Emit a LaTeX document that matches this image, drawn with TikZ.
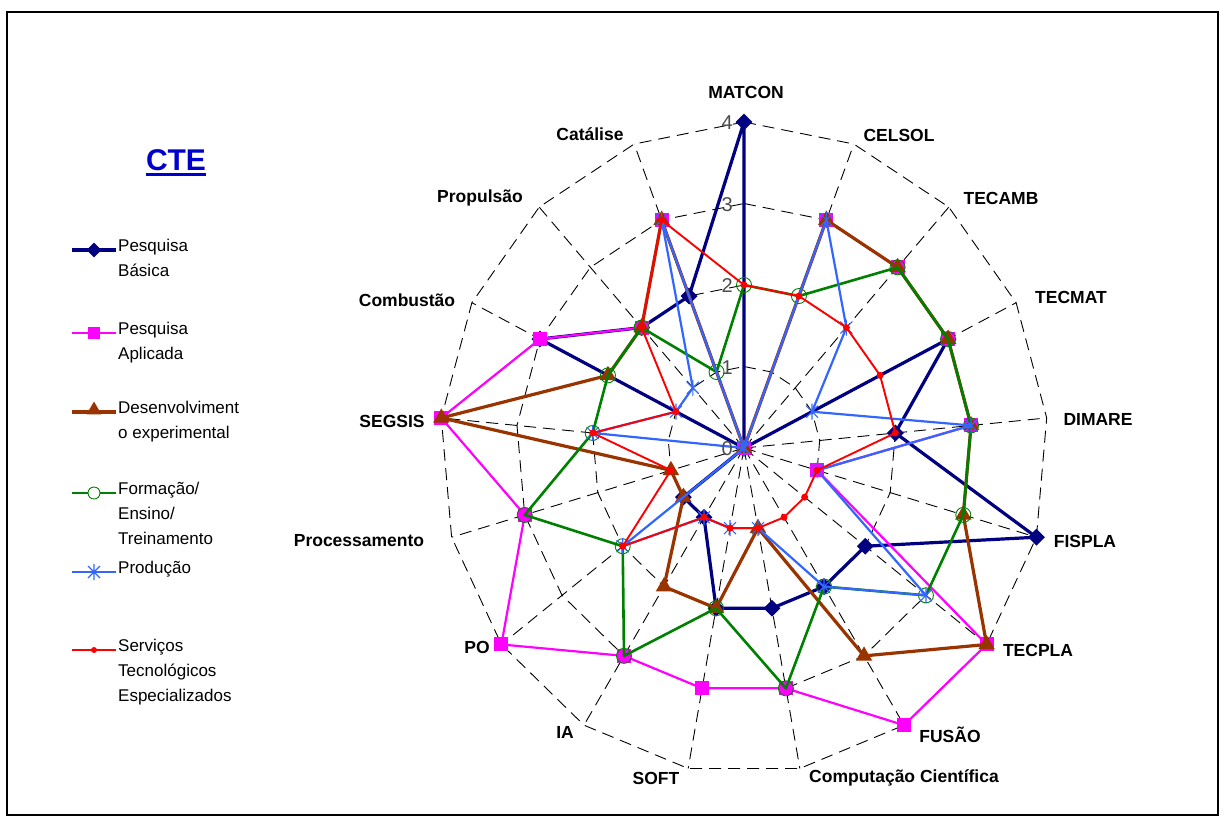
\documentclass[tikz,border=0pt]{standalone}
\usepackage{fontspec}
\setmainfont{Liberation Sans}
\usetikzlibrary{shapes.geometric}

\definecolor{pbcol}{HTML}{000080}
\definecolor{pacol}{HTML}{FF00FF}
\definecolor{decol}{HTML}{993300}
\definecolor{focol}{HTML}{008000}
\definecolor{prcol}{HTML}{3366FF}
\definecolor{secol}{HTML}{FF0000}
\definecolor{ctecol}{HTML}{0000CC}

\tikzset{
  gridline/.style={black, line width=0.9pt, dash pattern=on 12pt off 7pt},
  pbline/.style={pbcol, line width=3.2pt, line join=round},
  paline/.style={pacol, line width=2.2pt, line join=round},
  deline/.style={decol, line width=3.2pt, line join=round},
  foline/.style={focol, line width=2.6pt, line join=round},
  prline/.style={prcol, line width=2.2pt, line join=round},
  seline/.style={secol, line width=1.9pt, line join=round},
  pbmark/.style={diamond, fill=pbcol, inner sep=0pt, minimum size=17pt},
  pamark/.style={rectangle, fill=pacol, inner sep=0pt, minimum size=14pt},
  demark/.style={regular polygon, regular polygon sides=3, fill=decol, inner sep=0pt, minimum size=19pt},
  fomark/.style={circle, draw=focol, line width=0.9pt, inner sep=0pt, minimum size=15pt},
  semark/.style={circle, fill=secol, inner sep=0pt, minimum size=7pt},
  prodstar/.pic={\draw[prcol, line width=1.1pt] (-6pt,-6pt)--(6pt,6pt) (-6pt,6pt)--(6pt,-6pt) (0pt,-8pt)--(0pt,8pt);},
  axlabel/.style={font=\bfseries\fontsize{17.5}{17.5}\selectfont, inner sep=0pt},
  ticklabel/.style={font=\fontsize{20}{20}\selectfont, text=black!70, inner sep=0pt, anchor=east},
  legtext/.style={font=\fontsize{17}{25}\selectfont, align=left, anchor=north west, inner sep=0pt},
}

\begin{document}
\begin{tikzpicture}[x=1pt,y=-1pt]
\useasboundingbox (0,0) rectangle (1225,823);
\draw[line width=2pt] (7,12) rectangle (1218,815);

% ---------- radar chart ----------
\begin{scope}[shift={(744,448)}, x={(76pt,0pt)}, y={(0pt,81.5pt)}]
  % grid rings and spokes
  \foreach \r in {1,2,3,4}
    \draw[gridline] (90:\r) \foreach \k in {1,...,16} { -- ({90-\k*360/17}:\r) } -- cycle;
  \foreach \k in {0,...,16}
    \draw[gridline] (0,0) -- ({90-\k*360/17}:4);

  % data points (MATCON, CELSOL, TECAMB, TECMAT, DIMARE, FISPLA, TECPLA, FUSAO,
  % Comp., SOFT, IA, PO, Processamento, SEGSIS, Combustao, Propulsao, Catalise)
  \foreach \v [count=\k from 0] in {4,0,0,3,2,4,2,2,2,2,1,1,0,0,3,2,2}
    \coordinate (pb\k) at ({90-\k*360/17}:\v);
  \foreach \v [count=\k from 0] in {0,3,3,3,3,1,4,4,3,3,3,4,3,4,3,2,3}
    \coordinate (pa\k) at ({90-\k*360/17}:\v);
  \foreach \v [count=\k from 0] in {0,3,3,3,3,3,4,3,1,2,2,1,1,4,2,2,3}
    \coordinate (de\k) at ({90-\k*360/17}:\v);
  \foreach \v [count=\k from 0] in {2,2,3,3,3,3,3,2,3,2,3,2,3,2,2,2,1}
    \coordinate (fo\k) at ({90-\k*360/17}:\v);
  \foreach \v [count=\k from 0] in {0,3,2,1,3,1,3,2,1,1,1,2,0,2,1,1,3}
    \coordinate (pr\k) at ({90-\k*360/17}:\v);
  \foreach \v [count=\k from 0] in {2,2,2,2,2,1,1,1,1,1,1,2,1,2,1,2,3}
    \coordinate (se\k) at ({90-\k*360/17}:\v);

  % Pesquisa Basica
  \draw[pbline] (pb0) \foreach \k in {1,...,16} { -- (pb\k) } -- cycle;
  \foreach \k in {0,...,16} \node[pbmark] (pbm\k) at (pb\k) {};
  % Pesquisa Aplicada
  \draw[paline] (pa0) \foreach \k in {1,...,16} { -- (pa\k) } -- cycle;
  \foreach \k in {0,...,16} \node[pamark] (pam\k) at (pa\k) {};
  % Desenvolvimento experimental
  \draw[deline] (de0) \foreach \k in {1,...,16} { -- (de\k) } -- cycle;
  \foreach \k in {0,...,16} \node[demark] (dem\k) at (de\k) {};
  % Formacao / Ensino / Treinamento
  \draw[foline] (fo0) \foreach \k in {1,...,16} { -- (fo\k) } -- cycle;
  \foreach \k in {0,...,16} \node[fomark] (fom\k) at (fo\k) {};
  % Producao
  \draw[prline] (pr0) \foreach \k in {1,...,16} { -- (pr\k) } -- cycle;
  \foreach \k in {0,...,16} \pic at (pr\k) {prodstar};
  % Servicos Tecnologicos Especializados
  \draw[seline] (se0) \foreach \k in {1,...,16} { -- (se\k) } -- cycle;
  \foreach \k in {0,...,16} \node[semark] (sem\k) at (se\k) {};
\end{scope}

% scale values
\node[ticklabel] (t0) at (733,449) {0};
\node[ticklabel] (t1) at (733,367.5) {1};
\node[ticklabel] (t2) at (733,286) {2};
\node[ticklabel] (t3) at (733,204.5) {3};
\node[ticklabel] (t4) at (733,123) {4};

% axis labels
\node[axlabel] (lmatcon) at (746,92) {MATCON};
\node[axlabel] (lcelsol) at (899,135) {CELSOL};
\node[axlabel] (ltecamb) at (1001,198) {TECAMB};
\node[axlabel] (ltecmat) at (1071,297) {TECMAT};
\node[axlabel] (ldimare) at (1098,419) {DIMARE};
\node[axlabel] (lfispla) at (1085,541) {FISPLA};
\node[axlabel] (ltecpla) at (1038,650) {TECPLA};
\node[axlabel] (lfusao) at (950,735) {FUSÃO};
\node[axlabel] (lcomp) at (904,778) {Computação Científica};
\node[axlabel] (lsoft) at (656,778) {SOFT};
\node[axlabel] (lia) at (565,732) {IA};
\node[axlabel] (lpo) at (477,647) {PO};
\node[axlabel] (lproc) at (359,541) {Processamento};
\node[axlabel] (lsegsis) at (392,421) {SEGSIS};
\node[axlabel] (lcomb) at (407,300) {Combustão};
\node[axlabel] (lprop) at (480,198) {Propulsão};
\node[axlabel] (lcat) at (590,134) {Catálise};

% ---------- title and legend ----------
\node[font=\bfseries\fontsize{30}{30}\selectfont, text=ctecol, inner sep=0pt] (cte) at (176,160) {CTE};
\draw[ctecol, line width=2.5pt] ([yshift=-4pt]cte.base west) -- ([yshift=-4pt]cte.base east);

\draw[pbline] (72,250) -- (116,250);
\node[pbmark, minimum size=15pt] (lgpb) at (94,250) {};
\node[legtext] at (118,239) {Pesquisa\\Básica};

\draw[paline] (72,333) -- (116,333);
\node[pamark, minimum size=12pt] (lgpa) at (94,333) {};
\node[legtext] at (118,322) {Pesquisa\\Aplicada};

\draw[deline] (72,412) -- (116,412);
\node[demark, minimum size=17pt] (lgde) at (94,410) {};
\node[legtext] at (118,401) {Desenvolviment\\o experimental};

\draw[foline] (72,493) -- (116,493);
\node[fomark, fill=white, minimum size=12pt] (lgfo) at (94,493) {};
\node[legtext] at (118,482) {Formação/\\Ensino/\\Treinamento};

\draw[prline] (72,572) -- (116,572);
\pic at (94,572) {prodstar};
\node[legtext] at (118,561) {Produção};

\draw[seline] (72,650) -- (116,650);
\node[semark, minimum size=6pt] (lgse) at (94,650) {};
\node[legtext] at (118,639) {Serviços\\Tecnológicos\\Especializados};
\end{tikzpicture}
\end{document}
